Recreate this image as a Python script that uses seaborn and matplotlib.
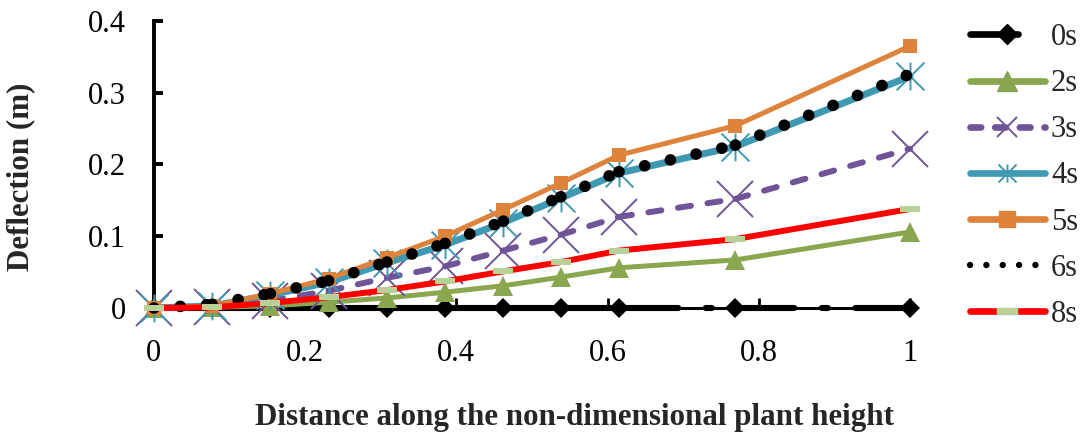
import numpy as np
import pandas as pd
import matplotlib
matplotlib.use("Agg")
import matplotlib.pyplot as plt
from matplotlib.path import Path
from matplotlib.lines import Line2D
from matplotlib.ticker import FuncFormatter
import seaborn as sns

# Non-dimensional position along the plant height
position = [0.0, 0.077, 0.154, 0.231, 0.308, 0.385, 0.462, 0.538, 0.615, 0.769, 1.0]

# Deflection (m) at each time step
defl_0s = [0.0, 0.0, 0.0, 0.0, 0.0, 0.0, 0.0, 0.0, 0.0, 0.0, 0.0]
defl_2s = [0.0, 0.001, 0.003, 0.008, 0.014, 0.022, 0.031, 0.043, 0.056, 0.067, 0.106]
defl_3s = [0.0, 0.002, 0.010, 0.024, 0.042, 0.058, 0.080, 0.102, 0.127, 0.152, 0.222]
defl_4s = [0.0, 0.003, 0.018, 0.036, 0.063, 0.088, 0.119, 0.153, 0.188, 0.225, 0.323]
defl_5s = [0.0, 0.003, 0.020, 0.041, 0.070, 0.100, 0.137, 0.174, 0.213, 0.254, 0.365]
defl_6s = [0.0, 0.005, 0.020, 0.038, 0.064, 0.090, 0.121, 0.155, 0.190, 0.227, 0.326]
defl_8s = [0.0, 0.001, 0.007, 0.015, 0.025, 0.037, 0.051, 0.064, 0.080, 0.096, 0.138]

labels = ["0s", "2s", "3s", "4s", "5s", "6s", "8s"]
x_ticks = [0, 0.2, 0.4, 0.6, 0.8, 1.0]
y_ticks = [0, 0.1, 0.2, 0.3, 0.4]

sns.set_theme(style="white")
plt.rcParams["font.family"] = ["Liberation Serif", "DejaVu Serif"]

BLACK = "#000000"
GREEN = "#8AA64E"
PURPLE = "#6F5597"
TEAL = "#3F99B2"
ORANGE = "#DD833C"
RED = "#FF0000"
PALE = "#B9D197"

# Marker shapes: a six-armed star (X plus vertical bar) and a flat bar
STAR = Path([(-1, -1), (1, 1), (-1, 1), (1, -1), (0, -1), (0, 1)],
            [Path.MOVETO, Path.LINETO, Path.MOVETO, Path.LINETO, Path.MOVETO, Path.LINETO])
BAR = Path([(-1, -0.25), (1, -0.25), (1, 0.25), (-1, 0.25), (-1, -0.25)],
           [Path.MOVETO, Path.LINETO, Path.LINETO, Path.LINETO, Path.CLOSEPOLY])

LONGDASHDOT = (0, (9.7, 4.5, 1.0, 4.5))
DASHED = (0, (2.2, 2.8))
DOTS = (0, (0.01, 2.25))

fig = plt.figure(figsize=(10.84, 4.37), dpi=100)
ax = fig.add_axes([0.142, 0.2952, 0.6975, 0.6568])


def draw(values, color, lw, ls="-", segmented=False, marker=None, ms=0,
         mfc="none", mec="none", mew=0.0):
    df = pd.DataFrame({"x": position, "y": values})
    line_kw = dict(color=color, linewidth=lw, linestyle=ls, errorbar=None,
                   clip_on=False, solid_capstyle="round", dash_capstyle="round",
                   solid_joinstyle="round", ax=ax)
    if segmented:
        # each segment restarts its dash pattern
        for i in range(len(df) - 1):
            sns.lineplot(data=df.iloc[i:i + 2], x="x", y="y", **line_kw)
    else:
        sns.lineplot(data=df, x="x", y="y", **line_kw)
    if marker is not None:
        sns.lineplot(data=df, x="x", y="y", ax=ax, errorbar=None, linestyle="none",
                     marker=marker, markersize=ms, markerfacecolor=mfc,
                     markeredgecolor=mec, markeredgewidth=mew, clip_on=False)


draw(defl_0s, BLACK, 4.4, LONGDASHDOT, segmented=True, marker="D", ms=10,
     mfc=BLACK, mec=BLACK)
draw(defl_2s, GREEN, 3.6, marker="^", ms=14, mfc=GREEN, mec=GREEN)
draw(defl_3s, PURPLE, 4.3, DASHED, segmented=True, marker="x", ms=26,
     mec=PURPLE, mew=1.4)
draw(defl_4s, TEAL, 5.0, marker=STAR, ms=20, mec=TEAL, mew=1.4)
draw(defl_5s, ORANGE, 3.6, marker="s", ms=10.5, mfc=ORANGE, mec=ORANGE)
draw(defl_6s, BLACK, 8.4, DOTS, segmented=True)
draw(defl_8s, RED, 4.3, marker=BAR, ms=15, mfc=PALE, mec=PALE)

ax.set_xlim(0, 1)
ax.set_ylim(0, 0.4)
ax.set_xticks(x_ticks)
ax.set_yticks(y_ticks)
fmt = FuncFormatter(lambda v, _: f"{v:g}")
ax.xaxis.set_major_formatter(fmt)
ax.yaxis.set_major_formatter(fmt)

for side in ("top", "right"):
    ax.spines[side].set_visible(False)
ax.spines["left"].set_linewidth(2.8)
ax.spines["bottom"].set_linewidth(2.2)
for side in ("left", "bottom"):
    ax.spines[side].set_color("black")
    ax.spines[side].set_zorder(0.5)

ax.tick_params(axis="y", direction="in", length=6.5, width=2.8, pad=20,
               labelsize=22, colors="black", left=True)
ax.tick_params(axis="x", direction="in", length=7, width=2, pad=22,
               labelsize=22, colors="black", bottom=True)

ax.set_xlabel("Distance along the non-dimensional plant height",
              fontsize=22.3, fontweight="bold")
ax.set_ylabel("Deflection (m)", fontsize=22.3, fontweight="bold")
ax.xaxis.set_label_coords(0.556, -0.38)
ax.yaxis.set_label_coords(-0.176, 0.456)
ax.xaxis.label.set_va("center")
ax.yaxis.label.set_va("center")

cap = dict(solid_capstyle="round", dash_capstyle="round")
handles = [
    Line2D([], [], color=BLACK, lw=4.8, linestyle=(0, (7.2, 20)), marker="D", ms=10,
           mfc=BLACK, mec=BLACK, **cap),
    Line2D([], [], color=GREEN, lw=4.8, marker="^", ms=14, mfc=GREEN, mec=GREEN, **cap),
    Line2D([], [], color=PURPLE, lw=4.8, linestyle=(0, (1.6, 2.1)), marker="x", ms=15,
           mec=PURPLE, mew=1.4, **cap),
    Line2D([], [], color=TEAL, lw=4.8, marker=STAR, ms=13, mfc="none", mec=TEAL,
           mew=1.4, **cap),
    Line2D([], [], color=ORANGE, lw=4.8, marker="s", ms=11, mfc=ORANGE, mec=ORANGE, **cap),
    Line2D([], [], color=BLACK, lw=4.6, linestyle=(0, (0.01, 2.55)), **cap),
    Line2D([], [], color=RED, lw=4.8, marker=BAR, ms=15, mfc=PALE, mec=PALE, **cap),
]
fig.legend(handles, labels, loc="upper left", bbox_to_anchor=(0.8948, 0.947),
           frameon=False, fontsize=22, handlelength=2.45, handletextpad=0.2,
           labelspacing=0.56, borderpad=0, borderaxespad=0, numpoints=1)

fig.savefig("out.png", dpi=100, facecolor="white")
